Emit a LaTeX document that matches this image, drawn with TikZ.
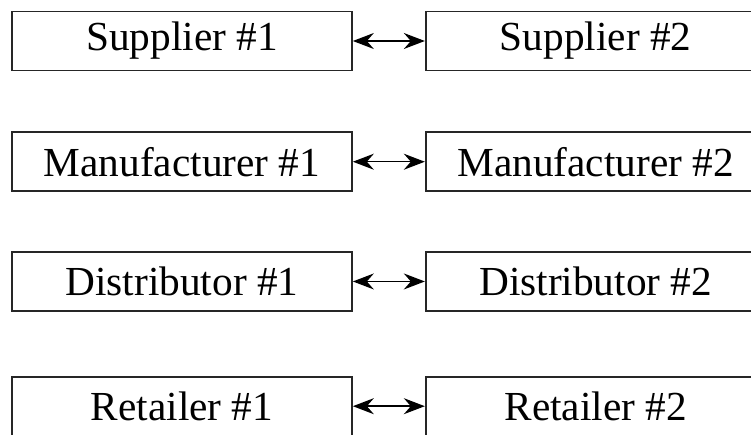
\documentclass[tikz,border=0pt]{standalone}
\usepackage{fontspec}
\setmainfont{Liberation Serif}
\usetikzlibrary{positioning,arrows.meta}

\begin{document}
\begin{tikzpicture}[x=0.02cm,y=-0.02cm]
    \tikzset{chain box/.style = {rectangle, draw=black!85, line width=1pt, minimum width=6.8cm, minimum height=1.18cm, inner sep=0pt, font=\fontsize{23.5}{28}\selectfont}}
    \tikzset{>={Stealth[length=4.2mm,width=3.2mm,inset=1.4mm]}}
    \useasboundingbox (0,0) rectangle (751,435);
    % first tier
    \node[chain box] (s1) at (182,41) {Supplier \#1};
    \node[chain box] (s2) [right = 1.44cm of s1] {Supplier \#2};
    % second tier
    \node[chain box] (m1) [below = 1.2cm of s1] {Manufacturer \#1};
    \node[chain box] (m2) [right = 1.44cm of m1] {Manufacturer \#2};
    % third tier
    \node[chain box] (d1) [below = 1.18cm of m1] {Distributor \#1};
    \node[chain box] (d2) [right = 1.44cm of d1] {Distributor \#2};
    % last tier
    \node[chain box] (r1) [below = 1.28cm of d1] {Retailer \#1};
    \node[chain box] (r2) [right = 1.44cm of r1] {Retailer \#2};
    \path[<->, line width=0.8pt]
    (s1) edge (s2)
    (m1) edge (m2)
    (d1) edge (d2)
    (r1) edge (r2);
\end{tikzpicture}
\end{document}
